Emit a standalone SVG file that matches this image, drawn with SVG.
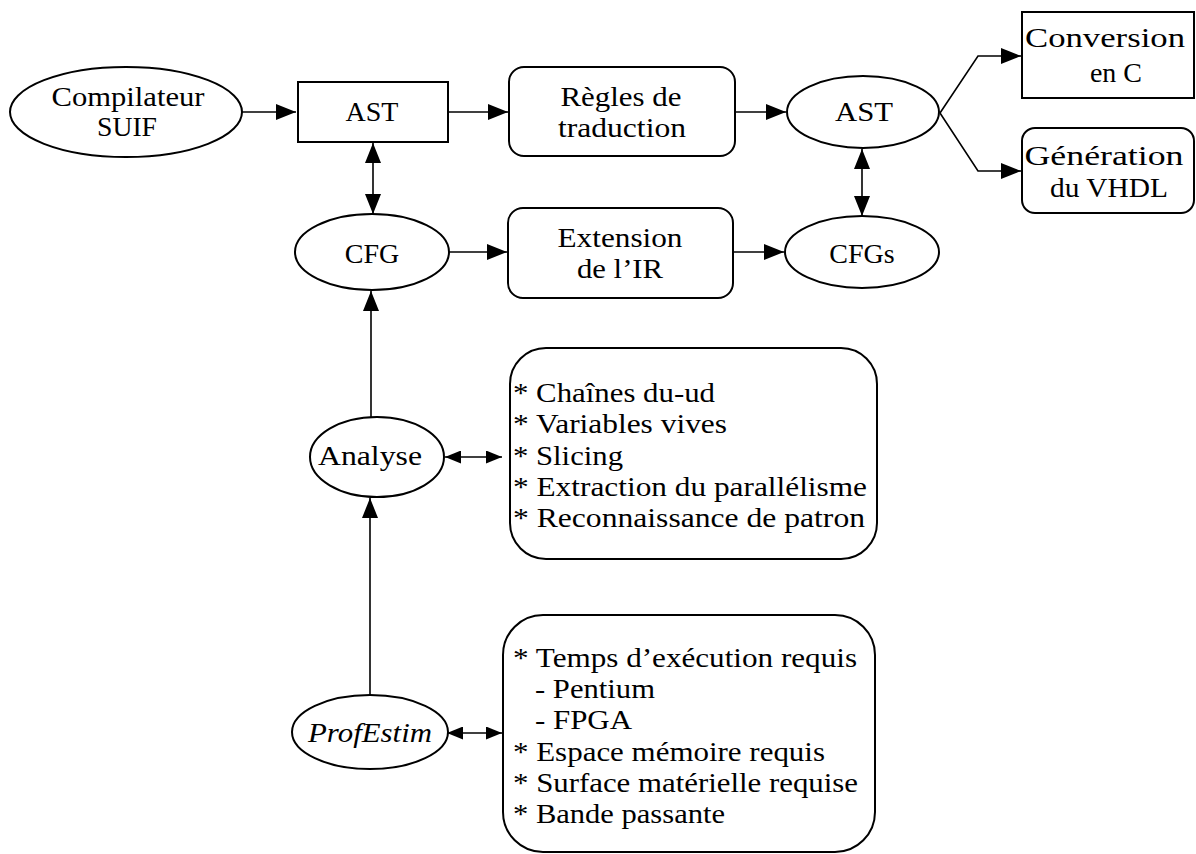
<svg xmlns="http://www.w3.org/2000/svg" width="1196" height="854" viewBox="0 0 1196 854">
<defs>
<style>
.n{fill:#fff;stroke:#000;stroke-width:2}
.t{text-anchor:middle}
.c{fill:none;stroke:#000;stroke-width:1.6}
</style>
<marker id="ah" markerWidth="20" markerHeight="16" refX="20" refY="8" orient="auto-start-reverse" markerUnits="userSpaceOnUse"><path d="M0,0 L20,8 L0,16 Z" fill="#000"/></marker>
<marker id="as" markerWidth="16" markerHeight="13" refX="16" refY="6.5" orient="auto-start-reverse" markerUnits="userSpaceOnUse"><path d="M0,0 L16,6.5 L0,13 Z" fill="#000"/></marker>
</defs>
<rect width="1196" height="854" fill="#fff"/>

<g id="connectors">
<path class="c" d="M242,112 L296,112" marker-end="url(#ah)"/>
<path class="c" d="M448,112 L508,112" marker-end="url(#ah)"/>
<path class="c" d="M735,112 L786,112" marker-end="url(#ah)"/>
<path class="c" d="M940,113 L978,56 L1021,56" marker-end="url(#ah)"/>
<path class="c" d="M940,113 L978,171 L1021,171" marker-end="url(#ah)"/>
<path class="c" d="M373,143 L373,214" marker-start="url(#ah)" marker-end="url(#ah)"/>
<path class="c" d="M862,149 L862,216" marker-start="url(#ah)" marker-end="url(#ah)"/>
<path class="c" d="M449,252 L507,252" marker-end="url(#ah)"/>
<path class="c" d="M733,252 L784,252" marker-end="url(#ah)"/>
<path class="c" d="M371,418 L371,291" marker-end="url(#ah)"/>
<path class="c" d="M370,695 L370,498" marker-end="url(#ah)"/>
<path class="c" d="M445,457 L502,457" marker-start="url(#as)" marker-end="url(#as)"/>
<path class="c" d="M447,733 L502,733" marker-start="url(#as)" marker-end="url(#as)"/>
</g>

<g font-family="Liberation Serif, Times New Roman, DejaVu Serif, serif" font-size="28" fill="#000">
<g id="suif">
<ellipse class="n" cx="126" cy="112" rx="116" ry="45"/>
<text class="t" x="128" y="106" textLength="153" lengthAdjust="spacingAndGlyphs">Compilateur</text>
<text class="t" x="127" y="136" textLength="60" lengthAdjust="spacingAndGlyphs">SUIF</text>
</g>

<g id="ast1">
<rect class="n" x="298" y="82" width="150" height="60"/>
<text class="t" x="372" y="121">AST</text>
</g>

<g id="regles">
<rect class="n" x="509" y="67" width="226" height="89" rx="15"/>
<text class="t" x="621" y="106" textLength="121" lengthAdjust="spacingAndGlyphs">Règles de</text>
<text class="t" x="622" y="137" textLength="128" lengthAdjust="spacingAndGlyphs">traduction</text>
</g>

<g id="ast2">
<ellipse class="n" cx="863" cy="112" rx="76" ry="36"/>
<text class="t" x="864" y="121" textLength="58" lengthAdjust="spacingAndGlyphs">AST</text>
</g>

<g id="conversion">
<rect class="n" x="1022" y="12" width="172" height="86"/>
<text class="t" x="1105" y="47" textLength="160" lengthAdjust="spacingAndGlyphs">Conversion</text>
<text class="t" x="1116" y="82">en C</text>
</g>

<g id="generation">
<rect class="n" x="1022" y="128" width="172" height="85" rx="13"/>
<text class="t" x="1104" y="165" textLength="159" lengthAdjust="spacingAndGlyphs">Génération</text>
<text class="t" x="1109" y="197" textLength="118" lengthAdjust="spacingAndGlyphs">du VHDL</text>
</g>

<g id="cfg">
<ellipse class="n" cx="372" cy="252" rx="77" ry="38"/>
<text class="t" x="372" y="263">CFG</text>
</g>

<g id="extension">
<rect class="n" x="508" y="208" width="225" height="90" rx="15"/>
<text class="t" x="620" y="247" textLength="125" lengthAdjust="spacingAndGlyphs">Extension</text>
<text class="t" x="620" y="278" textLength="86" lengthAdjust="spacingAndGlyphs">de l’IR</text>
</g>

<g id="cfgs">
<ellipse class="n" cx="862" cy="252" rx="77" ry="36"/>
<text class="t" x="862" y="263">CFGs</text>
</g>

<g id="analyse">
<ellipse class="n" cx="377" cy="457" rx="67" ry="40"/>
<text class="t" x="370" y="465" textLength="104" lengthAdjust="spacingAndGlyphs">Analyse</text>
</g>

<g id="analyses-list">
<rect class="n" x="510" y="348" width="367" height="211" rx="36"/>
<text x="513" y="402" textLength="202" lengthAdjust="spacingAndGlyphs">* Chaînes du-ud</text>
<text x="513" y="433" textLength="214" lengthAdjust="spacingAndGlyphs">* Variables vives</text>
<text x="513" y="465" textLength="110" lengthAdjust="spacingAndGlyphs">* Slicing</text>
<text x="513" y="496" textLength="354" lengthAdjust="spacingAndGlyphs">* Extraction du parallélisme</text>
<text x="513" y="527" textLength="352" lengthAdjust="spacingAndGlyphs">* Reconnaissance de patron</text>
</g>

<g id="profestim">
<ellipse class="n" cx="370" cy="732" rx="78" ry="37"/>
<text class="t" x="370" y="742" font-style="italic" textLength="124" lengthAdjust="spacingAndGlyphs">ProfEstim</text>
</g>

<g id="estimation-list">
<rect class="n" x="503" y="615" width="372" height="237" rx="40"/>
<text x="513" y="667" textLength="344" lengthAdjust="spacingAndGlyphs">* Temps d’exécution requis</text>
<text x="535" y="698" textLength="120" lengthAdjust="spacingAndGlyphs">- Pentium</text>
<text x="535" y="729" textLength="97" lengthAdjust="spacingAndGlyphs">- FPGA</text>
<text x="513" y="761" textLength="312" lengthAdjust="spacingAndGlyphs">* Espace mémoire requis</text>
<text x="513" y="792" textLength="345" lengthAdjust="spacingAndGlyphs">* Surface matérielle requise</text>
<text x="513" y="823" textLength="212" lengthAdjust="spacingAndGlyphs">* Bande passante</text>
</g>
</g>
</svg>
